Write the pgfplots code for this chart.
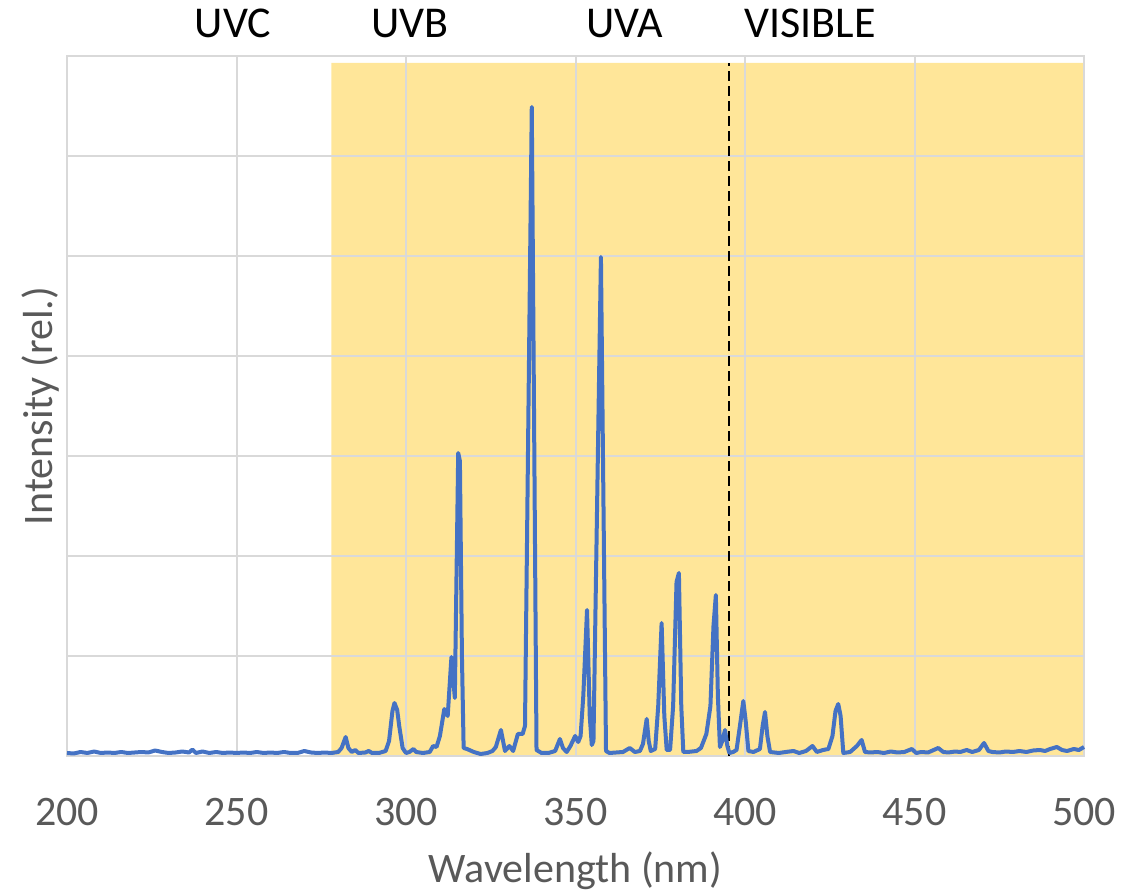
\documentclass[border=0pt]{standalone}
\usepackage{fontspec}
\setmainfont{Carlito}
\usepackage{pgfplots}
\pgfplotsset{compat=1.18}
\usepackage{pgfplotstable}

\definecolor{lineblue}{HTML}{4472C4}
\definecolor{shade}{HTML}{FFE699}
\definecolor{gridgray}{HTML}{D9D9D9}
\definecolor{labelgray}{HTML}{595959}

% emission spectrum: wavelength (nm), relative intensity
\pgfplotstableread{
x y
200 0.030
202 0.025
204 0.040
206 0.030
208 0.045
210 0.030
212 0.035
214 0.030
216 0.040
218 0.030
220 0.035
222 0.040
224 0.035
226 0.055
228 0.040
230 0.030
232 0.035
234 0.045
236 0.035
237 0.065
238 0.030
240 0.045
242 0.030
244 0.040
246 0.030
248 0.035
250 0.030
252 0.035
254 0.030
256 0.040
258 0.030
260 0.035
262 0.030
264 0.040
266 0.030
268 0.030
270 0.050
272 0.035
274 0.030
276 0.035
278 0.030
280 0.040
281 0.080
282.2 0.190
283 0.080
284 0.040
285 0.060
286 0.030
288 0.035
289 0.050
290 0.030
292 0.030
294 0.050
295 0.150
296 0.450
296.6 0.530
297.4 0.460
298 0.300
299 0.080
300 0.030
301 0.040
302.2 0.070
303 0.040
305 0.030
307 0.040
308 0.100
309 0.090
310 0.200
311.3 0.470
312.3 0.400
313.4 0.990
314.4 0.580
315.4 3.030
315.9 2.950
316.5 1.000
317 0.080
318 0.070
320 0.040
322 0.020
324 0.030
325.5 0.050
326.5 0.090
328 0.260
329.2 0.050
330.5 0.100
331.6 0.050
333 0.220
334.4 0.220
335.1 0.300
337.1 6.490
338.5 0.060
340 0.030
342 0.030
344 0.050
345.4 0.170
346.3 0.080
347.4 0.040
348.5 0.100
349.9 0.200
350.8 0.140
351.5 0.200
352.3 0.600
353.4 1.460
354.2 0.400
354.8 0.110
355.3 0.150
357.5 4.990
359.0 0.050
360 0.030
362 0.035
364 0.040
366 0.080
367.5 0.040
369 0.050
369.9 0.120
371 0.370
371.6 0.150
372.2 0.050
373.5 0.070
374.4 0.500
375.4 1.330
376.2 0.400
376.9 0.060
377.9 0.060
378.8 0.500
379.8 1.740
380.5 1.830
381.2 0.500
381.8 0.040
383 0.040
385.7 0.050
387 0.080
388.6 0.220
389.8 0.500
390.7 1.300
391.4 1.610
392.0 0.600
392.6 0.090
393.3 0.150
394.1 0.260
394.8 0.100
395.4 0.030
396.5 0.040
397.5 0.060
398.5 0.300
399.5 0.550
400.2 0.350
401 0.050
402.5 0.040
404.4 0.070
405.2 0.300
405.9 0.440
406.6 0.200
407.4 0.040
410 0.030
412 0.040
414.3 0.050
416 0.030
418 0.050
419.9 0.100
421.2 0.040
423 0.060
424.6 0.070
425.8 0.200
426.7 0.450
427.5 0.520
428.2 0.400
429 0.030
431 0.040
432 0.070
433 0.100
434.4 0.160
435.4 0.040
437 0.035
439 0.040
441 0.030
443 0.045
445 0.035
447 0.040
449.2 0.070
450.5 0.030
452 0.040
454 0.035
457 0.080
458.5 0.040
460 0.035
462 0.045
463.5 0.040
465.4 0.060
467 0.040
469 0.060
470.5 0.130
471.8 0.050
473 0.040
475 0.035
477 0.045
479 0.040
481 0.050
483 0.040
485 0.055
487 0.060
488.5 0.050
490 0.070
492 0.090
493.5 0.060
495 0.050
497 0.070
498.5 0.060
500 0.090
}\spectrum

\begin{document}
\begin{tikzpicture}
\begin{axis}[
  set layers,
  clip=false,
  at={(0,0)}, anchor=south west,
  scale only axis,
  width=508.5pt, height=350pt,
  xmin=200, xmax=500, ymin=0, ymax=7,
  xtick={200,250,...,500},
  ytick={0,1,...,7}, yticklabels={},
  grid=major,
  major grid style={draw=gridgray, line width=1pt},
  axis line style={draw=gridgray, line width=1pt},
  major tick length=0pt,
  tick style={draw=none},
  /pgf/number format/assume math mode=true,
  /pgf/number format/1000 sep={},
  xticklabel style={font=\fontsize{21}{25}\selectfont, text=labelgray, anchor=base, yshift=-35pt},
  xlabel={Wavelength (nm)},
  xlabel style={font=\fontsize{21}{25}\selectfont, text=labelgray, at={(axis description cs:0.5,-0.1814)}, anchor=base},
  ylabel={Intensity (rel.)},
  ylabel style={font=\fontsize{21}{25}\selectfont, text=labelgray, at={(axis description cs:-0.0138,0.5)}, anchor=base},
]
% shaded UV/visible band behind the grid
\addplot[draw=none, fill=shade, on layer=axis background] coordinates {(278,0) (500,0) (500,6.93) (278,6.93) (278,0)};
% UVA / visible boundary
\addplot[black, line width=1pt, dash pattern=on 5pt off 2.5pt] coordinates {(395.3,0) (395.3,6.93)};
% spectrum
\addplot[lineblue, line width=2pt, line join=round] table[x=x, y=y] {\spectrum};
% band names
\node[anchor=base, font=\fontsize{22}{26}\selectfont, yshift=9pt] at (axis cs:249,7) {UVC};
\node[anchor=base, font=\fontsize{22}{26}\selectfont, yshift=9pt] at (axis cs:301.2,7) {UVB};
\node[anchor=base, font=\fontsize{22}{26}\selectfont, yshift=9pt] at (axis cs:364.6,7) {UVA};
\node[anchor=base, font=\fontsize{22}{26}\selectfont, yshift=9pt] at (axis cs:419.2,7) {VISIBLE};
\end{axis}
\pgfresetboundingbox
\path[use as bounding box] (-33.5pt,-68.5pt) rectangle (539pt,378pt);
\end{tikzpicture}
\end{document}
